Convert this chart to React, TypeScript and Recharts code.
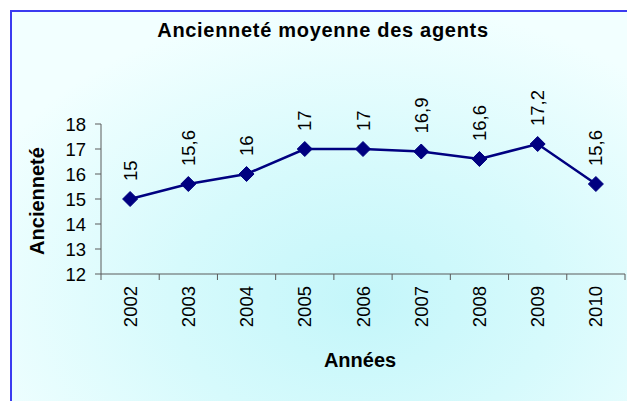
import { LineChart, Line, XAxis, YAxis, LabelList } from "recharts";

const years = ["2002", "2003", "2004", "2005", "2006", "2007", "2008", "2009", "2010"];
const anciennete = [15, 15.6, 16, 17, 17, 16.9, 16.6, 17.2, 15.6];
const yTicks = [12, 13, 14, 15, 16, 17, 18];

const data = years.map((annee, i) => ({ annee, valeur: anciennete[i] }));

const W = 627;
const H = 401;
const margin = { top: 124, right: 2, bottom: 0, left: 0 };
const yAxisWidth = 101;
const xAxisHeight = 127;
const band = (W - margin.left - margin.right - yAxisWidth) / years.length;

const font = "'Liberation Sans', Arial, sans-serif";
const navy = "#000080";
const axisColor = "#5a5a5a";

function YearTick(props: any) {
  const { x, y, payload, index } = props;
  const last = index === years.length - 1;
  return (
    <g>
      <line x1={x - band / 2} y1={y - 8} x2={x - band / 2} y2={y - 2} stroke={axisColor} />
      {last && <line x1={x + band / 2} y1={y - 8} x2={x + band / 2} y2={y - 2} stroke={axisColor} />}
      <text
        x={x}
        y={y + 4}
        transform={`rotate(-90, ${x}, ${y + 4})`}
        textAnchor="end"
        dominantBaseline="central"
        fontSize={18.5}
        fontFamily={font}
        fill="#000"
      >
        {payload.value}
      </text>
    </g>
  );
}

function Diamond(props: any) {
  const { cx, cy } = props;
  if (cx == null || cy == null) return null;
  const r = 7.5;
  return (
    <polygon
      points={`${cx},${cy - r} ${cx + r},${cy} ${cx},${cy + r} ${cx - r},${cy}`}
      fill={navy}
      stroke={navy}
    />
  );
}

function ValueLabel(props: any) {
  const { x, y, value } = props;
  const ay = y - 18;
  return (
    <text
      x={x}
      y={ay}
      transform={`rotate(-90, ${x}, ${ay})`}
      textAnchor="start"
      dominantBaseline="central"
      fontSize={18.5}
      fontFamily={font}
      fill="#000"
    >
      {String(value).replace(".", ",")}
    </text>
  );
}

export default function App() {
  return (
    <div
      style={{
        position: "absolute",
        left: 0,
        top: 0,
        width: W,
        height: H,
        overflow: "hidden",
        background: "#fff",
      }}
    >
      <div
        style={{
          position: "absolute",
          left: 10,
          top: 10,
          width: 700,
          height: 500,
          border: "2px solid #3b3bf0",
          background:
            "radial-gradient(ellipse 60% 60% at 50% 58%, #c4f6fa 0%, #d6fafc 45%, #f2ffff 100%)",
        }}
      />
      <svg
        width={W}
        height={60}
        style={{ position: "absolute", left: 0, top: 0 }}
      >
        <text
          x={323}
          y={37}
          textAnchor="middle"
          fontSize={20}
          fontWeight="bold"
          letterSpacing={0.7}
          fontFamily={font}
          fill="#000"
        >
          Ancienneté moyenne des agents
        </text>
      </svg>
      <div style={{ position: "absolute", left: 0, top: 0 }}>
        <LineChart width={W} height={H} data={data} margin={margin}>
          <XAxis
            dataKey="annee"
            height={xAxisHeight}
            stroke={axisColor}
            tickLine={false}
            tick={<YearTick />}
            interval={0}
            padding={{ left: band / 2, right: band / 2 }}
            label={{
              value: "Années",
              position: "center",
              dy: 22,
              dx: -3,
              fontSize: 20,
              fontWeight: "bold",
              fontFamily: font,
              fill: "#000",
            }}
          />
          <YAxis
            width={yAxisWidth}
            domain={[12, 18]}
            ticks={yTicks}
            interval={0}
            stroke={axisColor}
            tickSize={6}
            tickMargin={9}
            tick={{ fontSize: 18.5, fontFamily: font, fill: "#000" }}
            label={{
              value: "Ancienneté",
              angle: -90,
              position: "center",
              dx: -14,
              dy: 2,
              fontSize: 20,
              fontWeight: "bold",
              fontFamily: font,
              fill: "#000",
            }}
          />
          <Line
            type="linear"
            dataKey="valeur"
            stroke={navy}
            strokeWidth={2.5}
            dot={<Diamond />}
            activeDot={false}
            isAnimationActive={false}
          >
            <LabelList dataKey="valeur" content={<ValueLabel />} />
          </Line>
        </LineChart>
      </div>
    </div>
  );
}
